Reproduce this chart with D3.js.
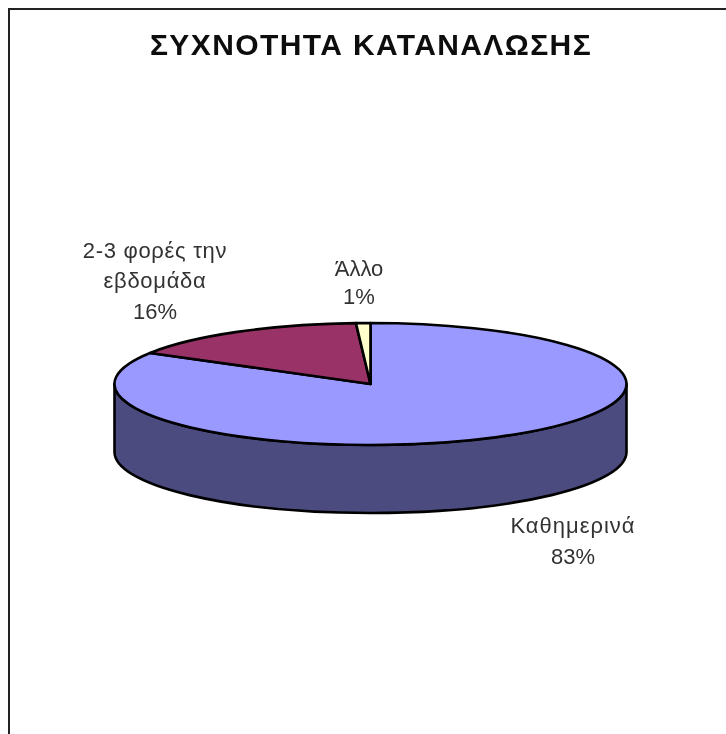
<!DOCTYPE html>
<html><head><meta charset="utf-8">
<style>html,body{margin:0;padding:0;background:#fff}svg{display:block}text{font-family:"Liberation Sans",Arial,sans-serif;text-anchor:middle}</style>
<script src="https://cdn.jsdelivr.net/npm/d3@7"></script></head><body>
<script>
const categories = ["Καθημερινά","2-3 φορές την εβδομάδα","Άλλο"];
const values = [83.5,15.6,0.9];
const percentLabels = ["83%","16%","1%"];
const sliceColors = ["#9999ff","#993366","#ffffcc"];
const wallColor = "#4c4c80";
const titleText = "ΣΥΧΝΟΤΗΤΑ ΚΑΤΑΝΑΛΩΣΗΣ";

const W=726,H=734,cx=370.5,cy=384,rx=256,ry=61,depth=68;
const svg=d3.select("body").append("svg").attr("width",W).attr("height",H);
const soft=svg.append("defs").append("filter").attr("id","soft").attr("x","-5%").attr("y","-5%").attr("width","110%").attr("height","110%");
soft.append("feGaussianBlur").attr("stdDeviation",0.45);
const root=svg.append("g").attr("filter","url(#soft)");
root.append("path").attr("d",`M9 ${H}V9H${W}`).attr("fill","none").attr("stroke","#222").attr("stroke-width",2);

const pie=d3.pie().sort(null).value(d=>d)(values);
// Pie geometry is a unit d3.arc, flattened to an ellipse for the 3D tilt
const arc=d3.arc().innerRadius(0).outerRadius(1);
const sx=d3.scaleLinear().domain([-1,1]).range([cx-rx,cx+rx]);
const sy=d3.scaleLinear().domain([-1,1]).range([cy-ry,cy+ry]);
const wall=`M${sx(1)} ${sy(0)}A${rx} ${ry} 0 0 1 ${sx(-1)} ${sy(0)}V${sy(0)+depth}A${rx} ${ry} 0 0 0 ${sx(1)} ${sy(0)+depth}Z`;
root.append("path").attr("d",wall).attr("fill",wallColor).attr("stroke","#000").attr("stroke-width",2.6).attr("stroke-linejoin","round");
root.append("g").attr("transform",`translate(${cx},${cy}) scale(${rx},${ry})`)
 .selectAll("path").data(pie).join("path")
 .attr("d",arc).attr("fill",(d,i)=>sliceColors[i])
 .attr("stroke","#000").attr("stroke-width",2.6).attr("stroke-linejoin","round").attr("vector-effect","non-scaling-stroke");

root.append("text").attr("x",371).attr("y",55).attr("font-size",30).attr("font-weight","bold").attr("letter-spacing",1.4).attr("fill","#111").text(titleText);
const labelLines=[
 [[categories[0],573,533,1],[percentLabels[0],573,564,0]],
 [["2-3 φορές την",155,258,0.7],["εβδομάδα",155,288,0.7],[percentLabels[1],155,319,0]],
 [[categories[2],359,276,0],[percentLabels[2],359,304,0]]
];
root.append("g").selectAll("text").data(labelLines.flat()).join("text")
 .attr("x",d=>d[1]).attr("y",d=>d[2]).attr("font-size",22).attr("letter-spacing",d=>d[3]).attr("fill","#333").text(d=>d[0]);
</script></body></html>
